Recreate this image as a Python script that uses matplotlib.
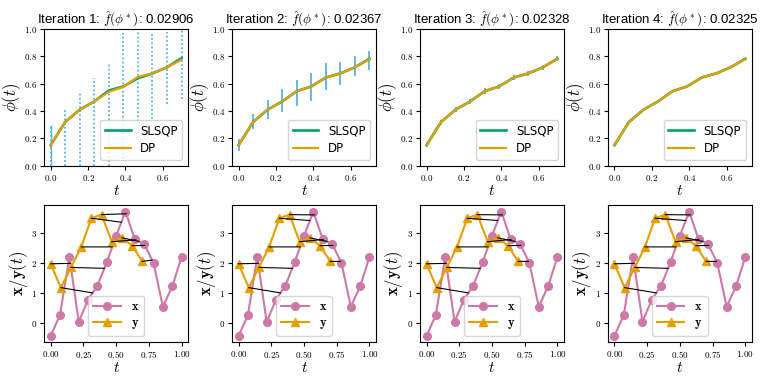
import numpy as np
import matplotlib
matplotlib.use("Agg")
import matplotlib.pyplot as plt

plt.rcParams['font.family'] = 'serif'
plt.rcParams['font.serif'] = ['cmr10']
plt.rcParams['mathtext.fontset'] = 'cm'
plt.rcParams['axes.formatter.use_mathtext'] = True
plt.rcParams['axes.unicode_minus'] = False

# warping time grid (y samples)
t_phi = [0.0, 0.0778, 0.1556, 0.2333, 0.3111, 0.3889, 0.4667, 0.5444, 0.6222, 0.7]

# objective value per iteration
f_vals = ["0.02906", "0.02367", "0.02328", "0.02325"]

# phi(t) per iteration
phi_slsqp = [
    [0.15, 0.32, 0.41, 0.47, 0.55, 0.58, 0.64, 0.675, 0.72, 0.787],
    [0.15, 0.32, 0.41, 0.47, 0.545, 0.58, 0.645, 0.675, 0.72, 0.782],
    [0.15, 0.32, 0.41, 0.47, 0.545, 0.58, 0.645, 0.675, 0.72, 0.782],
    [0.15, 0.32, 0.41, 0.47, 0.545, 0.58, 0.645, 0.675, 0.72, 0.782],
]
phi_dp = [
    [0.15, 0.32, 0.41, 0.47, 0.54, 0.577, 0.65, 0.675, 0.72, 0.775],
    [0.15, 0.32, 0.41, 0.47, 0.545, 0.58, 0.645, 0.675, 0.72, 0.78],
    [0.15, 0.32, 0.41, 0.47, 0.545, 0.58, 0.645, 0.675, 0.72, 0.78],
    [0.15, 0.32, 0.41, 0.47, 0.545, 0.58, 0.645, 0.675, 0.72, 0.78],
]

# search band (lower / upper) per iteration
band_lo = [
    [0.0, 0.0, 0.0, 0.0, 0.0, 0.05, 0.2, 0.34, 0.45, 0.49],
    [0.11, 0.27, 0.345, 0.39, 0.435, 0.47, 0.55, 0.59, 0.655, 0.70],
    [0.14, 0.30, 0.39, 0.45, 0.525, 0.56, 0.625, 0.655, 0.70, 0.765],
    [0.145, 0.315, 0.405, 0.465, 0.54, 0.575, 0.64, 0.67, 0.715, 0.775],
]
band_hi = [
    [0.30, 0.42, 0.53, 0.64, 0.75, 0.97, 0.98, 0.98, 0.98, 1.0],
    [0.195, 0.38, 0.48, 0.56, 0.63, 0.68, 0.75, 0.76, 0.80, 0.84],
    [0.165, 0.335, 0.43, 0.49, 0.565, 0.60, 0.665, 0.695, 0.74, 0.80],
    [0.155, 0.325, 0.415, 0.475, 0.55, 0.585, 0.65, 0.68, 0.725, 0.79],
]
band_style = [(0, (1, 1.3)), '-', '-', '-']

# signals
t_x = np.linspace(0, 1, 15)
x_vals = [-0.42, 0.28, 2.2, 0.05, 0.78, 1.25, 2.02, 2.9, 3.7, 2.78, 2.63, 2.0, 0.55, 1.22, 2.2]
y_vals = [1.97, 1.18, 1.85, 2.53, 3.48, 3.6, 2.7, 2.83, 2.57, 2.05]

c_green = '#009E73'
c_orange = '#E69F00'
c_blue = '#56B4E9'
c_pink = '#CC79A7'

fig, axes = plt.subplots(2, 4, figsize=(7.61, 3.81), dpi=100)
fig.subplots_adjust(left=0.058, right=0.988, top=0.924, bottom=0.102,
                    wspace=0.305, hspace=0.29)

for i in range(4):
    ax = axes[0, i]
    ax.vlines(t_phi, band_lo[i], band_hi[i], colors=c_blue,
              linestyles=band_style[i], lw=1.3, zorder=1)
    if i == 0:
        ax.vlines(t_phi[0], band_lo[i][0], band_hi[i][0], colors=c_blue, lw=1.0, zorder=1)
    ax.plot(t_phi, phi_slsqp[i], color=c_green, lw=1.9, label='SLSQP', zorder=2)
    ax.plot(t_phi, phi_dp[i], color=c_orange, lw=1.6, label='DP', zorder=3)
    ax.set_ylim(0, 1)
    ax.set_xticks([0.0, 0.2, 0.4, 0.6])
    ax.tick_params(labelsize=6.5, length=3, pad=2)
    ax.set_xlabel(r'$t$', fontsize=11, labelpad=1)
    ax.set_ylabel(r'$\phi(t)$', fontsize=12, labelpad=0.5)
    ax.set_title('Iteration %d: $\\hat{f}(\\phi^*)$: %s' % (i + 1, f_vals[i]),
                 fontsize=9.5, family='Liberation Sans', pad=3)
    ax.legend(loc='lower right', prop={'family': 'DejaVu Sans', 'size': 8.5},
              handlelength=2.2, borderpad=0.4, labelspacing=0.4)

    ax = axes[1, i]
    ax.plot(t_x, x_vals, color=c_pink, marker='o', ms=5.5, lw=1.5, label=r'$\mathbf{x}$', zorder=2)
    ax.plot(t_phi, y_vals, color=c_orange, marker='^', ms=5.5, lw=1.5, label=r'$\mathbf{y}$', zorder=3)
    x_at_phi = np.interp(phi_dp[i], t_x, x_vals)
    for tp, yv, pp, xv in zip(t_phi, y_vals, phi_dp[i], x_at_phi):
        ax.plot([tp, pp], [yv, xv], color='black', lw=0.8, zorder=4)
    ax.set_xticks([0.0, 0.25, 0.5, 0.75, 1.0])
    ax.set_yticks([0, 1, 2, 3])
    ax.tick_params(labelsize=6.5, length=3, pad=2)
    ax.set_xlabel(r'$t$', fontsize=11, labelpad=1)
    ax.set_ylabel(r'$\mathbf{x}/\mathbf{y}(t)$', fontsize=12, labelpad=1)
    ax.legend(loc='lower center', fontsize=9, handlelength=2.2,
              borderpad=0.4, labelspacing=0.3)

fig.savefig('out.png', dpi=100)
